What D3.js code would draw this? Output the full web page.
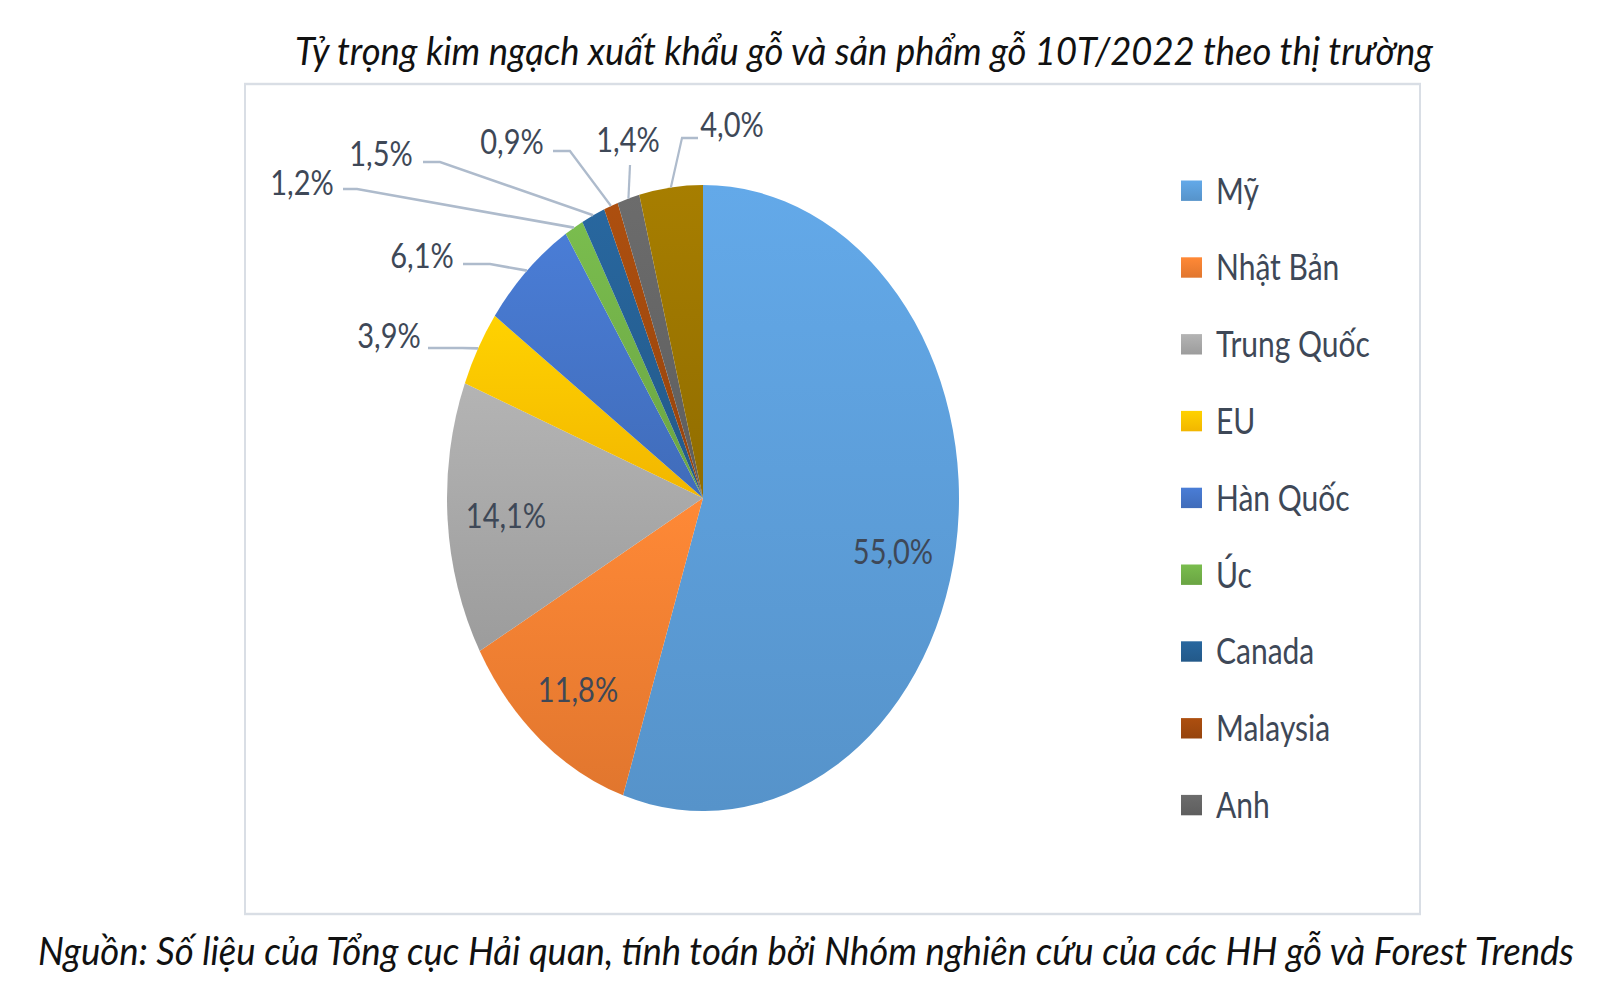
<!DOCTYPE html>
<html>
<head>
<meta charset="utf-8">
<script src="https://cdn.jsdelivr.net/npm/d3@7"></script>
<style>
  html, body { margin: 0; padding: 0; background: #fff; }
  svg { display: block; }
</style>
</head>
<body>
<svg id="chart"></svg>
<script>
// Data
const markets = ["Mỹ", "Nhật Bản", "Trung Quốc", "EU", "Hàn Quốc", "Úc", "Canada", "Malaysia", "Anh", "Khác"];
const shares = [55.0, 11.8, 14.1, 3.9, 6.1, 1.2, 1.5, 0.9, 1.4, 4.0];
const legendNames = markets.slice(0, 9); // the last entry is cut off in the original legend
const sliceColors = ["#5b9bd5", "#ed7d31", "#a5a5a5", "#ffc000", "#4472c4", "#70ad47", "#255e91", "#9e480e", "#636363", "#997300"];

const titleText = "Tỷ trọng kim ngạch xuất khẩu gỗ và sản phẩm gỗ 10T/2022 theo thị trường";
const sourceText = "Nguồn: Số liệu của Tổng cục Hải quan, tính toán bởi Nhóm nghiên cứu của các HH gỗ và Forest Trends";

// Layout (picture pixels). The original picture is stretched vertically,
// so everything is drawn in a squashed viewBox and stretched back.
const width = 1600;
const height = 1001;
const SY = 1.223;
const vbH = height / SY;
const cx = 703;
const cy = 498 / SY;
const radius = 256;
const radiusY = 313 / SY;

// label spots: text centre, leader start, elbow (none = inside label)
const labelSpots = [
  { t: [893, 552] },
  { t: [578, 690] },
  { t: [506, 516] },
  { t: [389, 336], s: [428, 348], e: [462, 348] },
  { t: [422, 256], s: [463, 264], e: [490, 264] },
  { t: [302, 183], s: [343, 189], e: [357, 189] },
  { t: [381, 154], s: [423, 162], e: [440, 162] },
  { t: [512, 142], s: [553, 151], e: [570, 151] },
  { t: [628, 140], s: [630, 165], e: [630, 165] },
  { t: [732, 125], s: [698, 138], e: [682, 138] }
];

const fontFam = "Lato, 'Open Sans', 'DejaVu Sans', sans-serif";
const textColor = "#3e4857";
const fmt = v => d3.format(".1f")(v).replace(".", ",") + "%";

const svg = d3.select("#chart")
  .attr("width", width)
  .attr("height", height)
  .attr("viewBox", `0 0 ${width} ${vbH}`)
  .attr("preserveAspectRatio", "none");

const defs = svg.append("defs");

// chart frame
svg.append("rect")
  .attr("x", 245).attr("y", 84 / SY)
  .attr("width", 1420 - 245).attr("height", (914 - 84) / SY)
  .attr("fill", "#fff")
  .attr("stroke", "#d9dee5")
  .attr("stroke-width", 2);

// title
svg.append("text")
  .attr("x", 864).attr("y", 51 / SY)
  .attr("dy", "0.35em")
  .attr("text-anchor", "middle")
  .attr("font-family", fontFam)
  .attr("font-style", "italic")
  .attr("font-size", 32)
  .attr("fill", "#111")
  .attr("textLength", 1138)
  .attr("lengthAdjust", "spacingAndGlyphs")
  .text(titleText);

// source
svg.append("text")
  .attr("x", 806).attr("y", 952 / SY)
  .attr("dy", "0.35em")
  .attr("text-anchor", "middle")
  .attr("font-family", fontFam)
  .attr("font-style", "italic")
  .attr("font-size", 31)
  .attr("fill", "#111")
  .attr("textLength", 1536)
  .attr("lengthAdjust", "spacingAndGlyphs")
  .text(sourceText);

// gradients per slice
sliceColors.forEach((c, i) => {
  const g = defs.append("linearGradient")
    .attr("id", "grad" + i)
    .attr("x1", 0).attr("y1", 0).attr("x2", 0).attr("y2", 1);
  g.append("stop").attr("offset", "0%").attr("stop-color", d3.color(c).brighter(0.25));
  g.append("stop").attr("offset", "100%").attr("stop-color", d3.color(c).darker(0.15));
});

const pieData = markets.map((m, i) => ({ name: m, value: shares[i], idx: i }));
const pie = d3.pie().value(d => d.value).sort(null);
const arcs = pie(pieData);
const arc = d3.arc().innerRadius(0).outerRadius(radius);

// the pie is 256 px wide-radius and 313 px tall-radius in the picture
const pieG = svg.append("g")
  .attr("transform", `translate(${cx},${cy}) scale(1, ${radiusY / radius})`);

pieG.selectAll("path")
  .data(arcs)
  .join("path")
  .attr("d", arc)
  .attr("fill", d => `url(#grad${d.data.idx})`);

// point on the rim at the slice's middle angle, in viewBox units
function rimPoint(d) {
  const a = (d.startAngle + d.endAngle) / 2;
  return [cx + radius * Math.sin(a), cy - radiusY * Math.cos(a)];
}

// leader lines
const leaders = arcs.filter(d => labelSpots[d.data.idx].s);
svg.append("g").selectAll("path")
  .data(leaders)
  .join("path")
  .attr("fill", "none")
  .attr("stroke", "#aebbcc")
  .attr("stroke-width", 2.2)
  .attr("d", d => {
    const sp = labelSpots[d.data.idx];
    const p = rimPoint(d);
    return d3.line()([[sp.s[0], sp.s[1] / SY], [sp.e[0], sp.e[1] / SY], p]);
  });

// value labels
svg.append("g").selectAll("text")
  .data(arcs)
  .join("text")
  .attr("x", d => labelSpots[d.data.idx].t[0])
  .attr("y", d => labelSpots[d.data.idx].t[1] / SY)
  .attr("dy", "0.35em")
  .attr("text-anchor", "middle")
  .attr("font-family", fontFam)
  .attr("font-size", 29)
  .attr("fill", textColor)
  .text(d => fmt(d.data.value));

// legend
const legendY = d3.scalePoint()
  .domain(legendNames)
  .range([190.7 / SY, (190.7 + 8 * 76.8) / SY]);

const legend = svg.append("g").selectAll("g")
  .data(legendNames)
  .join("g")
  .attr("transform", d => `translate(1181, ${legendY(d)})`);

legend.append("rect")
  .attr("x", 0).attr("y", -10.2 / SY)
  .attr("width", 21).attr("height", 20.4 / SY)
  .attr("fill", (d, i) => `url(#grad${i})`);

legend.append("text")
  .attr("x", 35)
  .attr("dy", "0.35em")
  .attr("font-family", fontFam)
  .attr("font-size", 30)
  .attr("fill", textColor)
  .text(d => d);
</script>
</body>
</html>
